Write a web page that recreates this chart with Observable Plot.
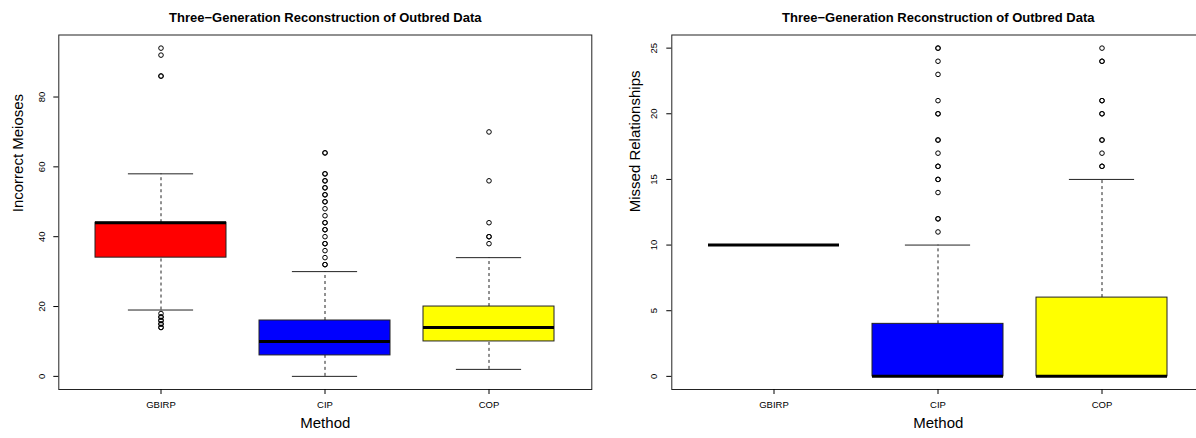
<!DOCTYPE html>
<html><head><meta charset="utf-8">
<script src="https://cdn.jsdelivr.net/npm/d3@7"></script>
<script src="https://cdn.jsdelivr.net/npm/@observablehq/plot@0.6"></script>
<style>
body{margin:0;background:#fff;}
#wrap{display:flex;width:1196px;height:438px;overflow:hidden;background:#fff;}
#wrap svg{display:block;flex:none;}
</style></head><body><div id="wrap"></div>
<script>
const methods = ["GBIRP", "CIP", "COP"];
const boxColors = ["#ff0000", "#0000ff", "#ffff00"];
const chartTitle = "Three\u2212Generation Reconstruction of Outbred Data";
const xLabel = "Method";

// Left panel: Incorrect Meioses
const meiosesLow = [19, 0, 2];
const meiosesQ1 = [34, 6, 10];
const meiosesMedian = [44, 10, 14];
const meiosesQ3 = [44, 16, 20];
const meiosesHigh = [58, 30, 34];
const meiosesOutGBIRP = [14, 14, 15, 15, 16, 16, 17, 17, 18, 86, 86, 92, 94];
const meiosesOutCIP = [32, 32, 34, 36, 38, 38, 40, 42, 42, 44, 44, 46, 48, 50, 50, 52, 52, 54, 54, 56, 56, 58, 58, 64, 64];
const meiosesOutCOP = [38, 40, 40, 44, 56, 70];
const meiosesTicks = [0, 20, 40, 60, 80];

// Right panel: Missed Relationships
const missedLow = [10, 0, 0];
const missedQ1 = [10, 0, 0];
const missedMedian = [10, 0, 0];
const missedQ3 = [10, 4, 6];
const missedHigh = [10, 10, 15];
const missedOutGBIRP = [];
const missedOutCIP = [11, 12, 12, 14, 15, 15, 16, 16, 17, 18, 18, 20, 20, 21, 23, 24, 25, 25];
const missedOutCOP = [16, 16, 17, 18, 18, 20, 20, 21, 21, 24, 24, 25];
const missedTicks = [0, 5, 10, 15, 20, 25];

const FONT = "'Liberation Sans', Arial, Helvetica, sans-serif";

function panel({low, q1, med, q3, high, outs, ticks, yLabel, width, ml, mr, labelDx, tickPad}) {
  const stats = methods.map((m, i) => ({method: m, low: low[i], q1: q1[i], med: med[i], q3: q3[i], high: high[i]}));
  const points = methods.flatMap((m, i) => outs[i].map(v => ({method: m, value: v})));
  const all = stats.flatMap(d => [d.low, d.high]).concat(points.map(d => d.value));
  const lo = Math.min(...all), hi = Math.max(...all), pad = (hi - lo) * 0.04;
  const step = (width - ml - mr) / 3.24;
  const capInset = step * 0.2;
  return Plot.plot({
    width, height: 438,
    marginLeft: ml, marginRight: mr, marginTop: 34.5, marginBottom: 49,
    style: {fontFamily: FONT, background: "white", color: "black"},
    x: {type: "band", domain: methods, paddingInner: 0.2, paddingOuter: 0.22, axis: null},
    y: {domain: [lo - pad, hi + pad], axis: null},
    color: {domain: methods, range: boxColors},
    marks: [
      Plot.ruleX(stats, {x: "method", y1: "q3", y2: "high", stroke: "#222", strokeDasharray: "3,3"}),
      Plot.ruleX(stats, {x: "method", y1: "low", y2: "q1", stroke: "#222", strokeDasharray: "3,3"}),
      Plot.tickY(stats, {x: "method", y: "high", stroke: "#222", insetLeft: capInset, insetRight: capInset}),
      Plot.tickY(stats, {x: "method", y: "low", stroke: "#222", insetLeft: capInset, insetRight: capInset}),
      Plot.barY(stats, {x: "method", y1: "q1", y2: "q3", fill: "method", stroke: "#222", strokeWidth: 1}),
      Plot.tickY(stats, {x: "method", y: "med", stroke: "black", strokeWidth: 3}),
      Plot.dot(points, {x: "method", y: "value", r: 2.3, stroke: "black", strokeWidth: 1, fill: "none"}),
      Plot.frame({stroke: "#222"}),
      Plot.axisX({tickSize: 5, tickPadding: 7, fontSize: 9.5, label: null}),
      Plot.axisY({ticks, tickSize: 5, tickPadding: tickPad, tickRotate: -90, fontSize: 9.5, label: null}),
      Plot.text([chartTitle], {frameAnchor: "top", dy: -22, fontWeight: "bold", fontSize: 13}),
      Plot.text([xLabel], {frameAnchor: "bottom", dy: 38, fontSize: 15}),
      Plot.text([yLabel], {frameAnchor: "left", dx: labelDx, rotate: -90, fontSize: 15})
    ]
  });
}

const wrap = document.getElementById("wrap");
wrap.append(panel({
  low: meiosesLow, q1: meiosesQ1, med: meiosesMedian, q3: meiosesQ3, high: meiosesHigh,
  outs: [meiosesOutGBIRP, meiosesOutCIP, meiosesOutCOP], ticks: meiosesTicks,
  yLabel: "Incorrect Meioses", width: 598, ml: 58.3, mr: 6.7, labelDx: -40.8, tickPad: 8.5
}));
wrap.append(panel({
  low: missedLow, q1: missedQ1, med: missedMedian, q3: missedQ3, high: missedHigh,
  outs: [missedOutGBIRP, missedOutCIP, missedOutCOP], ticks: missedTicks,
  yLabel: "Missed Relationships", width: 620, ml: 73.3, mr: 13.7, labelDx: -36.3, tickPad: 10
}));
</script></body></html>
